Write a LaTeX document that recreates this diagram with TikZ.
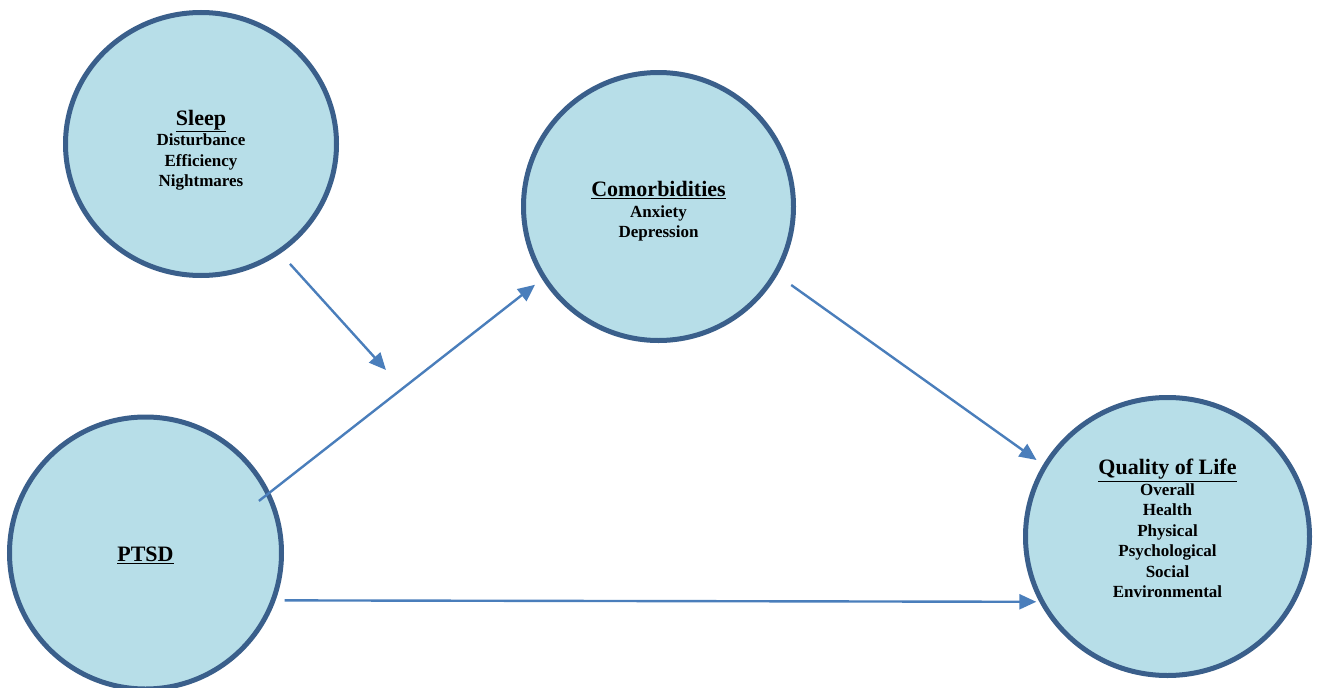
\documentclass[tikz,border=0pt]{standalone}
\usepackage{fontspec}
\setmainfont{Liberation Serif}
\usetikzlibrary{arrows.meta,shapes.geometric}

\definecolor{circfill}{HTML}{B7DEE8}
\definecolor{circline}{HTML}{3A5F8B}
\definecolor{arrline}{HTML}{4A7EBB}

\newcommand{\headline}[1]{{\fontsize{22}{20.5}\selectfont\underline{#1}}}

\begin{document}
\begin{tikzpicture}[
  x=1pt, y=-1pt,
  >={Triangle[length=17pt, width=15pt]},
  factor/.style={ellipse, draw=circline, fill=circfill, line width=5pt, inner sep=0pt},
  factortext/.style={align=center, inner sep=0pt, font=\fontsize{17}{20.5}\selectfont\bfseries},
  arrow/.style={->, draw=arrline, line width=2.4pt},
]
  \useasboundingbox (0,0) rectangle (1318,688);

  % Constructs
  \node[factor, minimum width=271pt, minimum height=263pt] (sleep) at (201,144) {};
  \node[factor, minimum width=270pt, minimum height=268pt] (comorb) at (658.5,206.5) {};
  \node[factor, minimum width=272pt, minimum height=272pt] (ptsd) at (145.5,553) {};
  \node[factor, minimum width=284pt, minimum height=278pt] (qol) at (1167.5,536.5) {};

  % Labels inside the constructs
  \node[factortext] (sleep-txt) at ([yshift=-6pt]sleep.center) {\headline{Sleep}\\Disturbance\\Efficiency\\Nightmares};
  \node[factortext] (comorb-txt) at ([yshift=-5pt]comorb.center) {\headline{Comorbidities}\\Anxiety\\Depression};
  \node[factortext] (ptsd-txt) at ([yshift=-2pt]ptsd.center) {\headline{PTSD}};
  \node[factortext] (qol-txt) at ([yshift=8pt]qol.center) {\headline{Quality of Life}\\Overall\\Health\\Physical\\Psychological\\Social\\Environmental};

  % Moderation point on the PTSD -> Comorbidities path
  \coordinate (modpt) at (386,370);

  % Paths
  \draw[arrow, shorten <=14pt] (sleep.-54) -- (modpt);
  \draw[arrow, shorten <=-14pt, shorten >=9pt] (ptsd.26) -- (comorb.212);
  \draw[arrow, shorten <=17pt, shorten >=8pt] (comorb.-30) -- (qol.150);
  \draw[arrow, shorten <=9pt, shorten >=3pt] (ptsd.-20) -- (qol.207);
\end{tikzpicture}
\end{document}
